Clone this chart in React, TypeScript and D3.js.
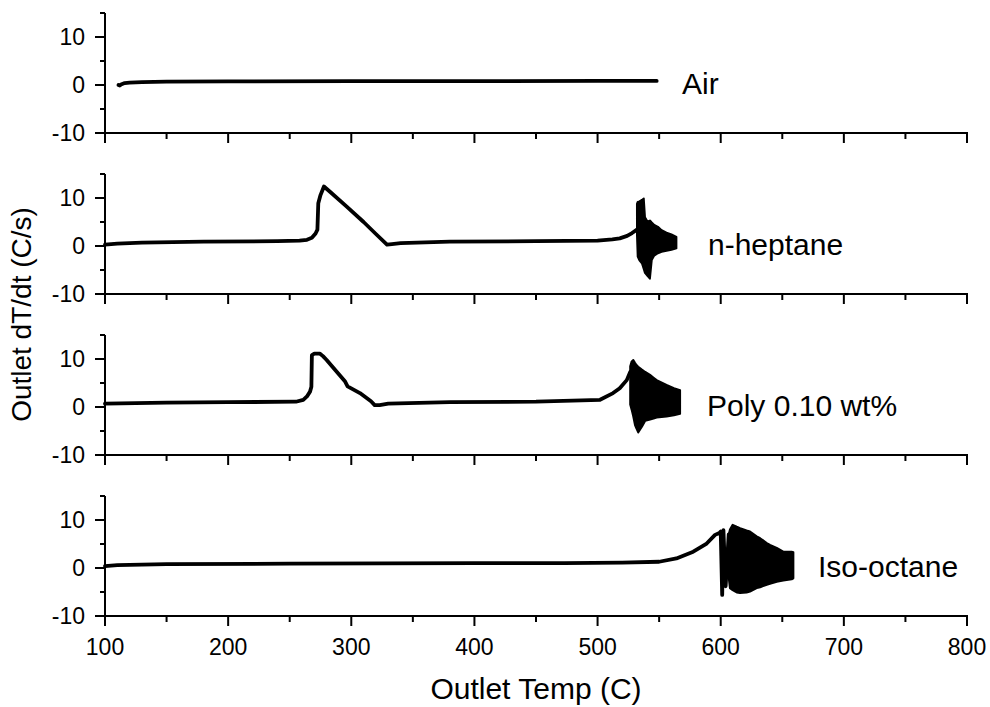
import React from 'react';
import * as d3 from 'd3';

// ---------- data ----------
const xMajorTicks = [100, 200, 300, 400, 500, 600, 700, 800];
const xMinorTicks = [150, 250, 350, 450, 550, 650, 750];
const yMajorTicks = [-10, 0, 10];
const yMinorTicks = [-5, 5, 15];

const panelNames = ['Air', 'n-heptane', 'Poly 0.10 wt%', 'Iso-octane'];

// [temperature, dT/dt]
const airLine: [number, number][] = [
  [111, 0.0], [112, -0.1], [113, 0.1], [116, 0.4], [120, 0.5], [130, 0.6], [150, 0.7],
  [200, 0.75], [300, 0.8], [400, 0.8], [500, 0.85], [548, 0.85],
];

const heptaneLine: [number, number][] = [
  [100, 0.3], [110, 0.5], [130, 0.7], [180, 0.9], [240, 1.0], [258, 1.1],
  [264, 1.3], [268, 1.7], [271, 2.6], [272.5, 3.4], [273.2, 8.9], [275, 10.6],
  [277.8, 12.4], [282.7, 11.3], [296.3, 8.2], [310, 5.0], [320, 2.5],
  [329, 0.3], [333, 0.4], [340, 0.6], [380, 0.9], [450, 1.0], [500, 1.1],
  [512, 1.4], [518, 1.6], [524, 2.1], [528, 2.7], [532, 3.4],
];

const polyLine: [number, number][] = [
  [100, 0.7], [150, 0.9], [200, 1.0], [255, 1.1], [261, 1.5], [264, 2.2],
  [266.5, 3.2], [267.6, 4.2], [268, 10.8], [270, 11.1], [274.6, 11.1],
  [277, 10.6], [280, 9.8], [288, 7.4], [295, 5.3], [297, 4.3], [307, 2.9],
  [316, 1.2], [319, 0.4], [323, 0.4], [330, 0.7], [380, 1.0], [450, 1.1],
  [502, 1.5], [512.6, 2.9], [518, 3.9], [523.7, 5.6], [526.5, 7.3],
];

const isoLine: [number, number][] = [
  [100, 0.4], [110, 0.6], [150, 0.8], [250, 0.9], [400, 1.0], [473, 1.0],
  [520, 1.1], [550, 1.3], [564, 2.0], [577.7, 3.4], [588.6, 5.1],
  [595.4, 6.9], [598.9, 7.3], [600, 7.6], [601.2, -5.6], [602.2, 7.9],
  [604, -3.8], [606.5, 7.0],
];

// oscillation envelopes: [temperature, upper, lower]
const heptaneBurst: [number, number, number][] = [
  [532, 8.8, 2.4], [532.6, 9.2, -2.2], [534, 9.3, -3.0], [536, 9.6, -3.6],
  [537.5, 9.9, -4.8], [538.5, 6.0, -5.6], [540.5, 5.1, -6.2], [542.5, 5.3, -6.8],
  [544, 4.9, -2.9], [546, 4.4, -2.0], [549, 4.0, -1.5], [552, 3.3, -1.2],
  [556, 2.8, -1.0], [560, 2.4, -0.8], [564, 1.9, -0.5],
];

const polyBurst: [number, number, number][] = [
  [526.5, 8.5, 0.5], [527.7, 9.5, -0.6], [529, 9.8, -2.0], [530.4, 9.2, -3.75],
  [531.6, 8.75, -4.5], [533, 8.4, -5.3], [536, 7.8, -4.1], [538.7, 7.3, -2.85],
  [542.6, 6.7, -2.6], [545.5, 6.1, -2.4], [548, 5.6, -2.2], [556, 4.6, -2.0],
  [562, 3.9, -1.7], [567, 3.5, -1.4],
];

const isoBurst: [number, number, number][] = [
  [606.5, 7.0, -2.0], [607.5, 8.0, -4.2], [609.7, 9.0, -4.6], [613, 8.6, -5.1],
  [615.7, 8.3, -5.2], [621, 7.8, -5.1], [623.8, 7.6, -4.9], [629.2, 6.6, -4.2],
  [632, 6.2, -4.0], [637.4, 5.2, -3.5], [640, 4.8, -3.3], [645.5, 4.2, -2.85],
  [650.8, 3.4, -2.6], [657.6, 3.4, -2.35], [659, 3.3, -2.15],
];

const seriesLines = [airLine, heptaneLine, polyLine, isoLine];
const seriesBursts = [null, heptaneBurst, polyBurst, isoBurst];

// ---------- layout ----------
const W = 990;
const H = 707;
const LEFT = 105;
const RIGHT = 967;
const PANEL_H = 120;
const PANEL_TOPS = [13, 174, 335, 496];
const LABEL_X = [682, 708, 707, 818];
const FONT = '"Liberation Sans", Arial, Helvetica, sans-serif';

const x = d3.scaleLinear().domain([100, 800]).range([LEFT, RIGHT]);

export default function App() {
  return (
    <svg
      width={W}
      height={H}
      style={{ position: 'absolute', left: 0, top: 0, background: '#fff' }}
      fontFamily={FONT}
    >
      <rect x={0} y={0} width={W} height={H} fill="#fff" />
      {PANEL_TOPS.map((top, i) => {
        const y = d3.scaleLinear().domain([-10, 15]).range([top + PANEL_H, top]);
        const line = d3
          .line<[number, number]>()
          .x((d) => x(d[0]))
          .y((d) => y(d[1]));
        const area = d3
          .area<[number, number, number]>()
          .x((d) => x(d[0]))
          .y0((d) => y(d[2]))
          .y1((d) => y(d[1]));
        const bottom = top + PANEL_H;
        const burst = seriesBursts[i];
        return (
          <g key={i}>
            {/* data */}
            <path
              d={line(seriesLines[i]) || ''}
              fill="none"
              stroke="#000"
              strokeWidth={3.8}
              strokeLinejoin="round"
              strokeLinecap="round"
            />
            {burst && (
              <path
                d={area(burst) || ''}
                fill="#000"
                stroke="#000"
                strokeWidth={2}
                strokeLinejoin="round"
              />
            )}
            {/* left axis */}
            <line x1={LEFT} x2={LEFT} y1={top} y2={bottom} stroke="#000" strokeWidth={2} />
            {yMajorTicks.map((t) => (
              <g key={'ym' + t}>
                <line x1={LEFT - 10} x2={LEFT} y1={y(t)} y2={y(t)} stroke="#000" strokeWidth={2} />
                <text
                  x={LEFT - 20}
                  y={y(t)}
                  dy="0.36em"
                  textAnchor="end"
                  fontSize={23}
                  fill="#000"
                >
                  {t}
                </text>
              </g>
            ))}
            {yMinorTicks.map((t) => (
              <line key={'yn' + t} x1={LEFT - 5} x2={LEFT} y1={y(t)} y2={y(t)} stroke="#000" strokeWidth={2} />
            ))}
            {/* bottom axis */}
            <line x1={LEFT - 1} x2={RIGHT + 1} y1={bottom} y2={bottom} stroke="#000" strokeWidth={2} />
            {xMajorTicks.map((t) => (
              <line key={'xm' + t} x1={x(t)} x2={x(t)} y1={bottom} y2={bottom + 10} stroke="#000" strokeWidth={2} />
            ))}
            {xMinorTicks.map((t) => (
              <line key={'xn' + t} x1={x(t)} x2={x(t)} y1={bottom} y2={bottom + 6} stroke="#000" strokeWidth={2} />
            ))}
            {i === PANEL_TOPS.length - 1 &&
              xMajorTicks.map((t) => (
                <text key={'xl' + t} x={x(t)} y={bottom + 39} textAnchor="middle" fontSize={23} fill="#000">
                  {t}
                </text>
              ))}
            {/* series label */}
            <text x={LABEL_X[i]} y={y(0) + 9} fontSize={30} fill="#000">
              {panelNames[i]}
            </text>
          </g>
        );
      })}
      <text x={(LEFT + RIGHT) / 2} y={699} textAnchor="middle" fontSize={30} fill="#000">
        Outlet Temp (C)
      </text>
      <text
        transform={`translate(31, ${(PANEL_TOPS[0] + PANEL_TOPS[3] + PANEL_H) / 2}) rotate(-90)`}
        textAnchor="middle"
        fontSize={28}
        fill="#000"
      >
        Outlet dT/dt (C/s)
      </text>
    </svg>
  );
}
